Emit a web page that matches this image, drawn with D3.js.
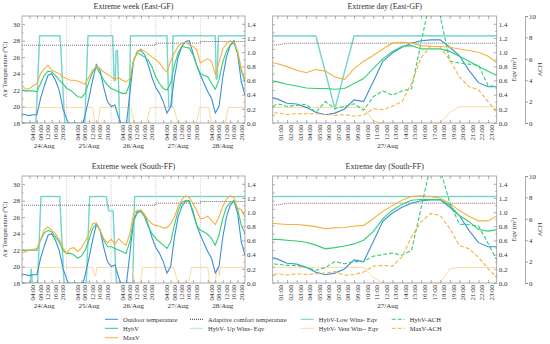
<!DOCTYPE html>
<html>
<head>
<meta charset="utf-8">
<script src="https://cdn.jsdelivr.net/npm/d3@7"></script>
<style>
body { margin: 0; background: #fff; }
text { font-family: "Liberation Serif", "Times New Roman", serif; fill: #333; }
</style>
</head>
<body>
<div id="svg"></div>
<script>
// ---- week data: hours from 24/Aug 00:00, every 2 h ----
var weekHours = d3.range(0, 121, 2)
var weekDays = ["24/Aug", "25/Aug", "26/Aug", "27/Aug", "28/Aug"]
var comfortWeek = [27.45, 27.45, 27.45, 27.7, 27.9]

var outdoorWeek = [19.1,19.0,18.9,19.0,19.0,21.0,22.5,23.8,24.0,23.2,22.0,19.8,
  18.5,17.5,17.0,17.0,17.2,19.0,21.0,23.2,25.1,24.4,22.3,20.6,
  20.0,20.2,18.7,17.5,17.5,21.5,25.5,26.7,26.8,26.3,25.0,23.5,
  22.3,21.6,20.6,19.2,20.0,23.5,26.0,27.3,27.9,28.0,26.5,25.0,
  23.8,22.8,21.8,21.0,19.2,20.0,23.5,26.0,27.4,28.0,26.5,23.0,21.4]

var hybvEastWeek = [22.0,21.9,21.9,21.9,21.8,22.8,23.8,24.3,24.2,23.8,23.2,22.8,
  22.2,22.0,21.6,21.2,21.1,21.6,23.0,24.2,24.8,24.0,23.2,22.6,
  22.2,22.0,21.8,21.6,21.6,22.8,25.6,26.5,26.3,26.0,25.6,24.8,
  23.6,22.8,22.2,22.0,22.8,25.0,26.5,27.3,27.2,27.1,26.3,25.0,
  24.0,23.8,23.6,22.8,22.1,23.2,25.4,26.7,27.5,27.7,26.5,24.4,23.0]

var maxvEastWeek = [22.6,22.1,22.2,22.5,22.8,24.0,24.6,25.0,24.4,24.2,24.0,23.6,
  23.4,23.2,23.2,23.1,22.9,22.7,23.6,24.4,24.9,24.6,24.2,23.9,
  23.6,23.3,23.5,23.2,23.0,23.4,25.6,26.7,27.0,26.7,26.4,26.0,
  25.7,25.3,24.6,24.2,25.5,26.5,27.3,27.7,27.8,27.5,27.3,26.9,
  25.3,25.6,25.8,25.5,23.9,25.3,27.0,27.6,28.0,27.8,26.8,24.6,23.2]

var hybvSouthWeek = [22.0,22.0,22.0,22.0,22.0,23.2,24.1,24.4,24.2,23.6,23.0,22.0,
  21.6,21.6,21.4,21.0,21.3,22.0,23.2,24.6,25.2,24.4,23.2,22.4,
  22.4,22.2,22.0,21.8,21.6,23.0,25.5,26.5,26.7,26.0,24.8,24.0,
  23.4,23.0,22.6,22.2,23.0,25.0,26.8,27.8,28.0,27.9,26.8,25.0,
  24.4,24.2,23.9,23.4,22.6,23.8,25.8,27.2,27.8,28.0,27.0,25.0,24.0]

var maxvSouthWeek = [21.6,21.8,22.0,22.1,22.2,23.2,24.5,24.8,24.4,24.0,23.3,22.3,
  21.6,22.2,22.3,21.8,22.3,23.0,24.0,25.2,25.3,24.4,23.4,22.9,
  23.3,22.7,23.4,22.9,22.6,24.0,26.4,26.8,26.9,26.3,25.6,25.2,
  25.0,24.9,24.7,24.7,25.2,26.0,27.3,28.1,28.6,28.4,27.7,26.8,
  25.8,25.9,26.1,25.6,25.1,26.0,27.3,28.2,28.6,28.4,27.1,26.9,26.0]

// window equivalent areas [hour, m2]
var lowWinEastWeek = [[0,0],[7.5,0],[9.5,1.23],[20.5,1.23],[23,0],[33.8,0],[35.5,1.23],[48.8,1.23],
  [49.6,0.6],[50.2,0.6],[50.6,1.02],[51.4,1.02],[52.6,0],[57.6,0],[58.4,1.23],[78,1.23],[79,0.22],
  [80.6,0.22],[81.2,1.23],[104,1.23],[104.5,0.62],[105,0.62],[105.7,1.23],[120,1.23]]
var upWinEastWeek = lowWinEastWeek
var ventWinEastWeek = [[0,0.22],[38,0.22],[39.2,0],[41,0],[42,0.22],[58.5,0.22],[60.5,0],[67,0],
  [69,0.22],[81.5,0.22],[84,0],[94,0],[95.5,0.22],[100.5,0.22],[102,0],[109.5,0],[111,0.22],[120,0.22]]

var lowWinSouthWeek = [[0,0],[4.5,0],[5,0.2],[5.5,0],[8.4,0],[10.2,1.22],[20.3,1.22],[22.6,0],
  [34.6,0],[36.4,1.22],[45.4,1.22],[46.6,1.02],[49,1.02],[50.8,0],[59.6,0],[60.6,1.22],[120,1.22]]
var upWinSouthWeek = lowWinSouthWeek
var ventWinSouthWeek = [[0,0.22],[38.2,0.22],[39,0.1],[39.6,0.1],[40.3,0.22],[59.5,0.22],[60.5,0],
  [63.5,0],[65,0.22],[81.5,0.22],[84,0],[89.5,0],[91.3,0.22],[100,0.22],[101,0],[104,0],[105,0.22],
  [105.6,0.22],[106.2,0.1],[106.8,0.22],[120,0.22]]

// ---- day data: 27/Aug, hourly ----
var dayHours = d3.range(0, 25)
var outdoorDay = [21.3,20.9,20.4,20.3,19.9,19.3,19.0,19.2,19.7,20.8,20.6,23.0,25.5,26.5,27.2,27.7,28.0,28.1,28.1,27.2,26.2,24.4,22.9,22.4,22.4]
var comfortDay = [27.45,27.5,27.7,27.7,27.7,27.7,27.7,27.7,27.7,27.7,27.7,27.7,27.7,27.7,27.7,27.7,27.7,27.7,27.7,27.7,27.7,27.7,27.7,27.7,27.7]

var hybvEastDay = [23.2,23.0,22.7,22.5,22.25,22.2,22.2,22.1,22.2,22.8,23.4,24.6,25.8,26.7,27.3,27.4,27.0,27.0,27.0,26.7,26.1,25.5,24.9,24.3,23.7]
var maxvEastDay = [25.45,25.2,24.85,24.4,24.1,24.5,24.3,23.6,23.3,24.6,25.5,26.2,27.0,27.7,27.8,27.7,27.4,27.3,27.3,27.2,27.0,26.8,26.6,26.1,25.3]
var hybvAchEastDay = [1.25,1.8,1.55,1.65,1.75,1.0,2.0,1.35,1.55,1.8,1.2,2.45,3.0,2.6,3.0,3.2,7.5,11.8,10.0,5.8,5.6,5.5,5.4,3.5,3.4]
var maxvAchEastDay = [0.94,0.94,0.8,0.87,0.87,0.87,0.8,0.72,0.78,0.65,0.72,1.34,1.25,1.56,2.0,3.7,6.1,7.2,7.1,5.9,4.3,3.4,3.1,2.0,0.9]
var lowWinEastDay = [1.23,1.23,1.23,1.23,1.23,1.23,0.72,0.2,0.72,1.23,1.23,1.23,1.23,1.23,1.23,1.23,1.23,1.23,1.23,1.23,1.23,1.23,1.23,1.23,1.23]
var upWinEastDay = lowWinEastDay
var ventWinEastDay = [0.22,0.22,0.22,0.22,0.22,0.22,0.22,0.22,0.22,0.22,0.22,0.03,0,0,0,0,0,0,0,0.15,0.23,0.23,0.23,0.23,0.23]

var hybvSouthDay = [23.3,23.3,23.2,23.1,22.95,22.6,22.15,22.3,22.5,22.75,23.2,24.25,25.8,26.85,27.55,28.05,28.15,28.15,28.15,27.45,26.2,25.45,24.5,24.3,24.5]
var maxvSouthDay = [25.3,25.2,25.1,25.1,25.0,24.85,24.6,24.7,24.75,24.9,25.0,25.8,26.7,27.4,28.05,28.5,28.6,28.5,28.3,27.7,26.8,26.1,25.55,25.55,26.2]
var hybvAchSouthDay = [1.8,1.75,1.65,1.65,1.45,1.2,1.45,2.0,1.8,2.0,2.0,2.5,2.65,2.8,2.6,3.05,7.0,11.0,10.6,7.5,5.5,5.45,5.3,3.7,2.0]
var maxvAchSouthDay = [0.6,0.87,0.75,0.87,0.8,0.87,0.93,1.06,0.72,0.8,1.03,1.56,1.65,1.56,2.44,4.3,5.7,6.5,6.3,5.1,3.5,3.2,2.4,1.35,0.4]
var lowWinSouthDay = [1.22,1.22,1.22,1.22,1.22,1.22,1.22,1.22,1.22,1.22,1.22,1.22,1.22,1.22,1.22,1.22,1.22,1.22,1.22,1.22,1.22,1.22,1.22,1.22,1.22]
var upWinSouthDay = lowWinSouthDay
var ventWinSouthDay = [0.22,0.22,0.22,0.22,0.22,0.22,0.22,0.22,0.22,0.22,0.22,0.08,0,0,0,0,0,0,0,0.2,0.22,0.22,0.22,0.22,0.22]

var legendNames = [["Outdoor temperature", "HybV", "MaxV"],
  ["Adaptive comfort temperature", "HybV- Up Wins- Eqv"],
  ["HybV-Low Wins- Eqv", "HybV- Vent Win-- Eqv"],
  ["HybV-ACH", "MaxV-ACH"]]

var col = {blue: "#3b8fd8", green: "#2fcf72", orange: "#f8b03f", teal: "#62d8b9",
  lblue: "#b5dcf4", peach: "#fcd9a1", black: "#333"}
var styles = {
  "Outdoor temperature": {c: col.blue},
  "HybV": {c: col.green},
  "MaxV": {c: col.orange},
  "Adaptive comfort temperature": {c: col.black, dash: "1,1"},
  "HybV- Up Wins- Eqv": {c: col.lblue},
  "HybV-Low Wins- Eqv": {c: col.teal},
  "HybV- Vent Win-- Eqv": {c: col.peach},
  "HybV-ACH": {c: col.green, dash: "4,2"},
  "MaxV-ACH": {c: col.orange, dash: "4,2"}
}

var svg = d3.select("#svg").append("svg").attr("width", 550).attr("height", 344)

function pad(h) { return (h < 10 ? "0" : "") + h + ":00" }

function styleAxis(a) {
  a.select(".domain").remove()
  a.selectAll("line").style("stroke", "#777").style("stroke-width", 0.6)
  a.selectAll("text").style("font-size", "7px")
}

function addPath(g, data, xf, yf, s, w) {
  g.append("path").datum(data)
    .attr("d", d3.line().x(xf).y(yf))
    .style("fill", "none").style("stroke", s.c).style("stroke-width", w || 1.1)
    .style("stroke-dasharray", s.dash || null)
}

function frame(x0, x1, top, bottom, id) {
  svg.append("clipPath").attr("id", id).append("rect")
    .attr("x", x0).attr("y", top).attr("width", x1 - x0).attr("height", bottom - top)
}

function weekPanel(top, bottom, title, hybv, maxv, lowWin, upWin, ventWin) {
  var x0 = 22, x1 = 245
  var x = d3.scaleLinear().domain([0, 120]).range([x0, x1])
  var yT = d3.scaleLinear().domain([18, 31]).range([bottom, top])
  var yE = d3.scaleLinear().domain([0, 1.51]).range([bottom, top])
  var id = "cw" + top
  frame(x0, x1, top, bottom, id)
  var g = svg.append("g")

  // day separators
  g.selectAll(".sep").data([24, 48, 72, 96]).enter().append("line")
    .attr("x1", d => x(d)).attr("x2", d => x(d)).attr("y1", top).attr("y2", bottom)
    .style("stroke", "#bbb").style("stroke-width", 0.7).style("stroke-dasharray", "1,1")

  var lines = g.append("g").attr("clip-path", "url(#" + id + ")")
  addPath(lines, upWin, d => x(d[0]), d => yE(d[1]), styles["HybV- Up Wins- Eqv"], 1.5)
  addPath(lines, lowWin, d => x(d[0]), d => yE(d[1]), styles["HybV-Low Wins- Eqv"], 0.9)
  addPath(lines, ventWin, d => x(d[0]), d => yE(d[1]), styles["HybV- Vent Win-- Eqv"], 1)
  var comfort = comfortWeek.concat([comfortWeek[4]])
  lines.append("path").datum(comfort)
    .attr("d", d3.line().x((d, i) => x(i * 24)).y(d => yT(d)).curve(d3.curveStepAfter))
    .style("fill", "none").style("stroke", col.black).style("stroke-width", 0.7)
    .style("stroke-dasharray", "1,1")
  addPath(lines, outdoorWeek, (d, i) => x(weekHours[i]), d => yT(d), styles["Outdoor temperature"])
  addPath(lines, hybv, (d, i) => x(weekHours[i]), d => yT(d), styles["HybV"])
  addPath(lines, maxv, (d, i) => x(weekHours[i]), d => yT(d), styles["MaxV"])

  g.append("rect").attr("x", x0).attr("y", top).attr("width", x1 - x0).attr("height", bottom - top)
    .style("fill", "none").style("stroke", "#999").style("stroke-width", 0.8)

  var hourTicks = []
  weekDays.forEach(function (d, i) { [4, 8, 12, 16, 20].forEach(h => hourTicks.push(i * 24 + h)) })

  var ax = g.append("g").attr("transform", "translate(0," + bottom + ")")
    .call(d3.axisBottom(x).tickValues(hourTicks).tickSize(-3).tickFormat(h => pad(h % 24)))
  styleAxis(ax)
  ax.selectAll("text").attr("transform", "rotate(-90)").attr("x", -2).attr("y", 0)
    .attr("dy", "0.8em").style("text-anchor", "end").style("font-size", "6.8px")
  var at = g.append("g").attr("transform", "translate(0," + top + ")")
    .call(d3.axisTop(x).tickValues(hourTicks).tickSize(-3).tickFormat(""))
  styleAxis(at)

  g.selectAll(".dl").data(weekDays).enter().append("text")
    .attr("x", (d, i) => x(i * 24 + 12)).attr("y", bottom + 25)
    .style("text-anchor", "middle").style("font-size", "7px").text(d => d)

  var al = g.append("g").attr("transform", "translate(" + x0 + ",0)")
    .call(d3.axisLeft(yT).tickValues(d3.range(18, 31, 2)).tickSize(-3).tickPadding(2))
  styleAxis(al)
  var alm = g.append("g").attr("transform", "translate(" + x0 + ",0)")
    .call(d3.axisLeft(yT).tickValues(d3.range(19, 31, 2)).tickSize(-1.5).tickFormat(""))
  styleAxis(alm)
  var ar = g.append("g").attr("transform", "translate(" + x1 + ",0)")
    .call(d3.axisRight(yE).tickValues(d3.range(0, 1.41, 0.2)).tickSize(-3).tickPadding(2).tickFormat(d3.format(".1f")))
  styleAxis(ar)
  var arm = g.append("g").attr("transform", "translate(" + x1 + ",0)")
    .call(d3.axisRight(yE).tickValues(d3.range(0.1, 1.5, 0.2)).tickSize(-1.5).tickFormat(""))
  styleAxis(arm)

  g.append("text").attr("x", (x0 + x1) / 2).attr("y", top - 7.5)
    .style("text-anchor", "middle").style("font-size", "8px").text(title)
  g.append("text").attr("transform", "translate(7," + ((top + bottom) / 2) + ") rotate(-90)")
    .style("text-anchor", "middle").style("font-size", "6.5px").text("Air Temperature (°C)")
}

function dayPanel(top, bottom, title, hybv, maxv, hybvAch, maxvAch, lowWin, upWin, ventWin) {
  var x0 = 272.7, x1 = 496.7, xa = 525
  var x = d3.scaleLinear().domain([0.5, 23.9]).range([x0, x1])
  var yT = d3.scaleLinear().domain([18, 31]).range([bottom, top])
  var yE = d3.scaleLinear().domain([0, 1.51]).range([bottom, top])
  var yA = d3.scaleLinear().domain([0, 10]).range([bottom, top])
  var id = "cd" + top
  frame(x0, x1, top, bottom, id)
  var g = svg.append("g")
  var lines = g.append("g").attr("clip-path", "url(#" + id + ")")
  var xf = (d, i) => x(dayHours[i])
  addPath(lines, upWin, xf, d => yE(d), styles["HybV- Up Wins- Eqv"], 1.6)
  addPath(lines, lowWin, xf, d => yE(d), styles["HybV-Low Wins- Eqv"], 0.9)
  addPath(lines, ventWin, xf, d => yE(d), styles["HybV- Vent Win-- Eqv"], 1)
  addPath(lines, comfortDay, xf, d => yT(d), styles["Adaptive comfort temperature"], 0.7)
  addPath(lines, outdoorDay, xf, d => yT(d), styles["Outdoor temperature"])
  addPath(lines, hybv, xf, d => yT(d), styles["HybV"])
  addPath(lines, maxv, xf, d => yT(d), styles["MaxV"])
  addPath(lines, hybvAch, xf, d => yA(d), styles["HybV-ACH"])
  addPath(lines, maxvAch, xf, d => yA(d), styles["MaxV-ACH"])

  g.append("rect").attr("x", x0).attr("y", top).attr("width", x1 - x0).attr("height", bottom - top)
    .style("fill", "none").style("stroke", "#999").style("stroke-width", 0.8)

  var hours = d3.range(1, 24)
  var ax = g.append("g").attr("transform", "translate(0," + bottom + ")")
    .call(d3.axisBottom(x).tickValues(hours).tickSize(-3).tickFormat(pad))
  styleAxis(ax)
  ax.selectAll("text").attr("transform", "rotate(-90)").attr("x", -2).attr("y", 0)
    .attr("dy", "0.8em").style("text-anchor", "end").style("font-size", "6.8px")
  var at = g.append("g").attr("transform", "translate(0," + top + ")")
    .call(d3.axisTop(x).tickValues(hours).tickSize(-3).tickFormat(""))
  styleAxis(at)
  g.append("text").attr("x", (x0 + x1) / 2 + 3).attr("y", bottom + 25)
    .style("text-anchor", "middle").style("font-size", "7px").text("27/Aug")

  var al = g.append("g").attr("transform", "translate(" + x0 + ",0)")
    .call(d3.axisLeft(yT).tickValues(d3.range(18, 31, 1)).tickSize(-2).tickFormat(""))
  styleAxis(al)
  var ar = g.append("g").attr("transform", "translate(" + x1 + ",0)")
    .call(d3.axisRight(yE).tickValues(d3.range(0, 1.41, 0.2)).tickSize(-3).tickPadding(2).tickFormat(d3.format(".1f")))
  styleAxis(ar)
  var arm = g.append("g").attr("transform", "translate(" + x1 + ",0)")
    .call(d3.axisRight(yE).tickValues(d3.range(0.1, 1.5, 0.2)).tickSize(-1.5).tickFormat(""))
  styleAxis(arm)
  var aa = g.append("g").attr("transform", "translate(" + xa + ",0)")
    .call(d3.axisRight(yA).tickValues(d3.range(0, 11, 2)).tickSize(3).tickPadding(1))
  aa.select(".domain").style("stroke", "#777").style("stroke-width", 0.6)
  aa.selectAll("line").style("stroke", "#777").style("stroke-width", 0.6)
  aa.selectAll("text").style("font-size", "7px")

  g.append("text").attr("x", (x0 + x1) / 2).attr("y", top - 7.5)
    .style("text-anchor", "middle").style("font-size", "8px").text(title)
  var eq = g.append("text").attr("transform", "translate(516," + ((top + bottom) / 2) + ") rotate(-90)")
    .style("text-anchor", "middle").style("font-size", "6.5px")
  eq.append("tspan").text("Eqv (m")
  eq.append("tspan").attr("dy", "-2").style("font-size", "4.5px").text("2")
  eq.append("tspan").attr("dy", "2").text(")")
  g.append("text").attr("transform", "translate(542," + ((top + bottom) / 2) + ") rotate(-90)")
    .style("text-anchor", "middle").style("font-size", "6.5px").text("ACH")
}

weekPanel(16, 123, "Extreme week (East-GF)", hybvEastWeek, maxvEastWeek, lowWinEastWeek, upWinEastWeek, ventWinEastWeek)
weekPanel(176, 283, "Extreme week (South-FF)", hybvSouthWeek, maxvSouthWeek, lowWinSouthWeek, upWinSouthWeek, ventWinSouthWeek)
dayPanel(16, 123, "Extreme day (East-GF)", hybvEastDay, maxvEastDay, hybvAchEastDay, maxvAchEastDay, lowWinEastDay, upWinEastDay, ventWinEastDay)
dayPanel(176, 283, "Extreme day (South-FF)", hybvSouthDay, maxvSouthDay, hybvAchSouthDay, maxvAchSouthDay, lowWinSouthDay, upWinSouthDay, ventWinSouthDay)

// legend
var legX = [105, 190, 300.7, 391.7], legY = [319.3, 328.3, 337.7]
var leg = svg.append("g")
legendNames.forEach(function (colNames, ci) {
  colNames.forEach(function (name, ri) {
    var s = styles[name]
    leg.append("line").attr("x1", legX[ci]).attr("x2", legX[ci] + 13)
      .attr("y1", legY[ri]).attr("y2", legY[ri])
      .style("stroke", s.c).style("stroke-width", 1).style("stroke-dasharray", s.dash || null)
    leg.append("text").attr("x", legX[ci] + 18).attr("y", legY[ri] + 2.2)
      .style("font-size", "6.5px").text(name)
  })
})
</script>
</body>
</html>
